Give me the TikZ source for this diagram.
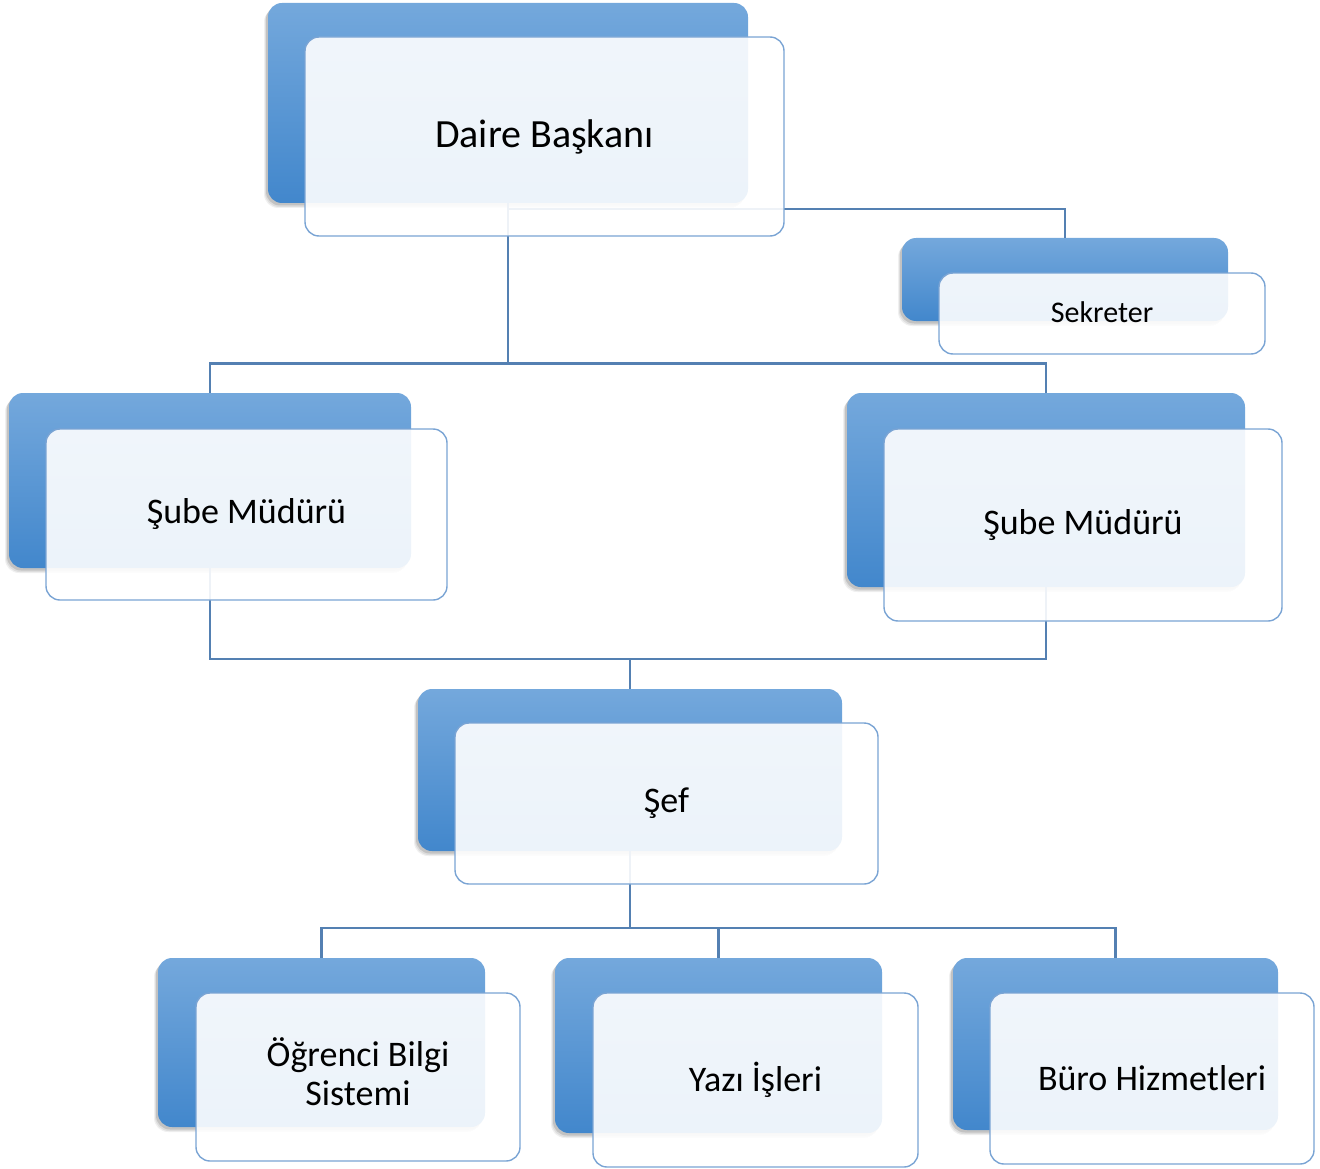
\documentclass[tikz,border=0pt]{standalone}
\usepackage{fontspec}
\setmainfont{Carlito}
\usetikzlibrary{shadows}
\definecolor{backtop}{RGB}{116,168,220}
\definecolor{backbot}{RGB}{66,135,204}
\definecolor{frontline}{RGB}{122,164,212}
\definecolor{connline}{RGB}{84,128,178}
\definecolor{frontfill}{RGB}{255,255,255}
\tikzset{
  backbox/.style={rounded corners=14pt, top color=backtop, bottom color=backbot, draw=none, inner sep=0pt,
    general shadow={shadow xshift=-4pt, shadow yshift=-5pt, fill=black, opacity=0.06},
    general shadow={shadow xshift=-3pt, shadow yshift=-4pt, fill=black, opacity=0.08},
    general shadow={shadow xshift=-2pt, shadow yshift=-2.5pt, fill=black, opacity=0.12}},
  frontbox/.style={rounded corners=14pt, draw=frontline, line width=1.4pt, fill=frontfill, fill opacity=0.9,
    text opacity=1, text=black, align=center, inner sep=0pt, font=\fontsize{36pt}{40pt}\selectfont},
  conn/.style={draw=connline, line width=2.6pt}
}
\begin{document}
\begin{tikzpicture}[x=1pt,y=-1pt]
\useasboundingbox (0,0) rectangle (1320,1169);
% back boxes
\node[backbox, minimum width=480pt, minimum height=200pt] (db) at (508,103) {};
\node[backbox, minimum width=326pt, minimum height=83pt] (kb) at (1065,279.5) {};
\node[backbox, minimum width=402pt, minimum height=175pt] (s1b) at (210,480.5) {};
\node[backbox, minimum width=398pt, minimum height=194pt] (s2b) at (1046,490) {};
\node[backbox, minimum width=424pt, minimum height=162pt] (sfb) at (630,770) {};
\node[backbox, minimum width=327pt, minimum height=169pt] (c1b) at (321.5,1042.5) {};
\node[backbox, minimum width=327pt, minimum height=175pt] (c2b) at (718.5,1045.5) {};
\node[backbox, minimum width=325pt, minimum height=172pt] (c3b) at (1115.5,1044) {};
% connectors
\draw[conn] (db.south) -- ++(0,6) -| (kb.north);
\draw[conn] (db.south) -- ++(0,160) coordinate (j1);
\draw[conn] (s1b.north) |- (j1) -| (s2b.north);
\coordinate (j2) at (630,659);
\draw[conn] (s1b.south) |- (j2) -| (s2b.south);
\draw[conn] (j2) -- (sfb.north);
\coordinate (j3) at (630,928);
\draw[conn] (sfb.south) -- (j3);
\draw[conn] (c1b.north) |- (j3) -| (c3b.north);
\draw[conn] (j3) -| (c2b.north);
% front boxes
\node[frontbox, minimum width=479pt, minimum height=199pt, font=\fontsize{40pt}{44pt}\selectfont] (df) at (544.5,136.5) {\raisebox{1pt}{Daire Başkanı}};
\node[frontbox, minimum width=326pt, minimum height=81pt, font=\fontsize{30pt}{34pt}\selectfont] (kf) at (1102,313.5) {\raisebox{2pt}{Sekreter}};
\node[frontbox, minimum width=401pt, minimum height=171pt] (s1f) at (246.5,514.5) {Şube Müdürü};
\node[frontbox, minimum width=398pt, minimum height=192pt] (s2f) at (1083,525) {Şube Müdürü};
\node[frontbox, minimum width=423pt, minimum height=161pt] (sff) at (666.5,803.5) {Şef};
\node[frontbox, minimum width=324pt, minimum height=168pt, font=\fontsize{36pt}{39pt}\selectfont] (c1f) at (358,1077) {\raisebox{4pt}{\begin{tabular}{@{}c@{}}Öğrenci Bilgi\\Sistemi\end{tabular}}};
\node[frontbox, minimum width=325pt, minimum height=174pt] (c2f) at (755.5,1080) {Yazı İşleri};
\node[frontbox, minimum width=324pt, minimum height=171pt] (c3f) at (1152,1078.5) {Büro Hizmetleri};
\end{tikzpicture}
\end{document}
